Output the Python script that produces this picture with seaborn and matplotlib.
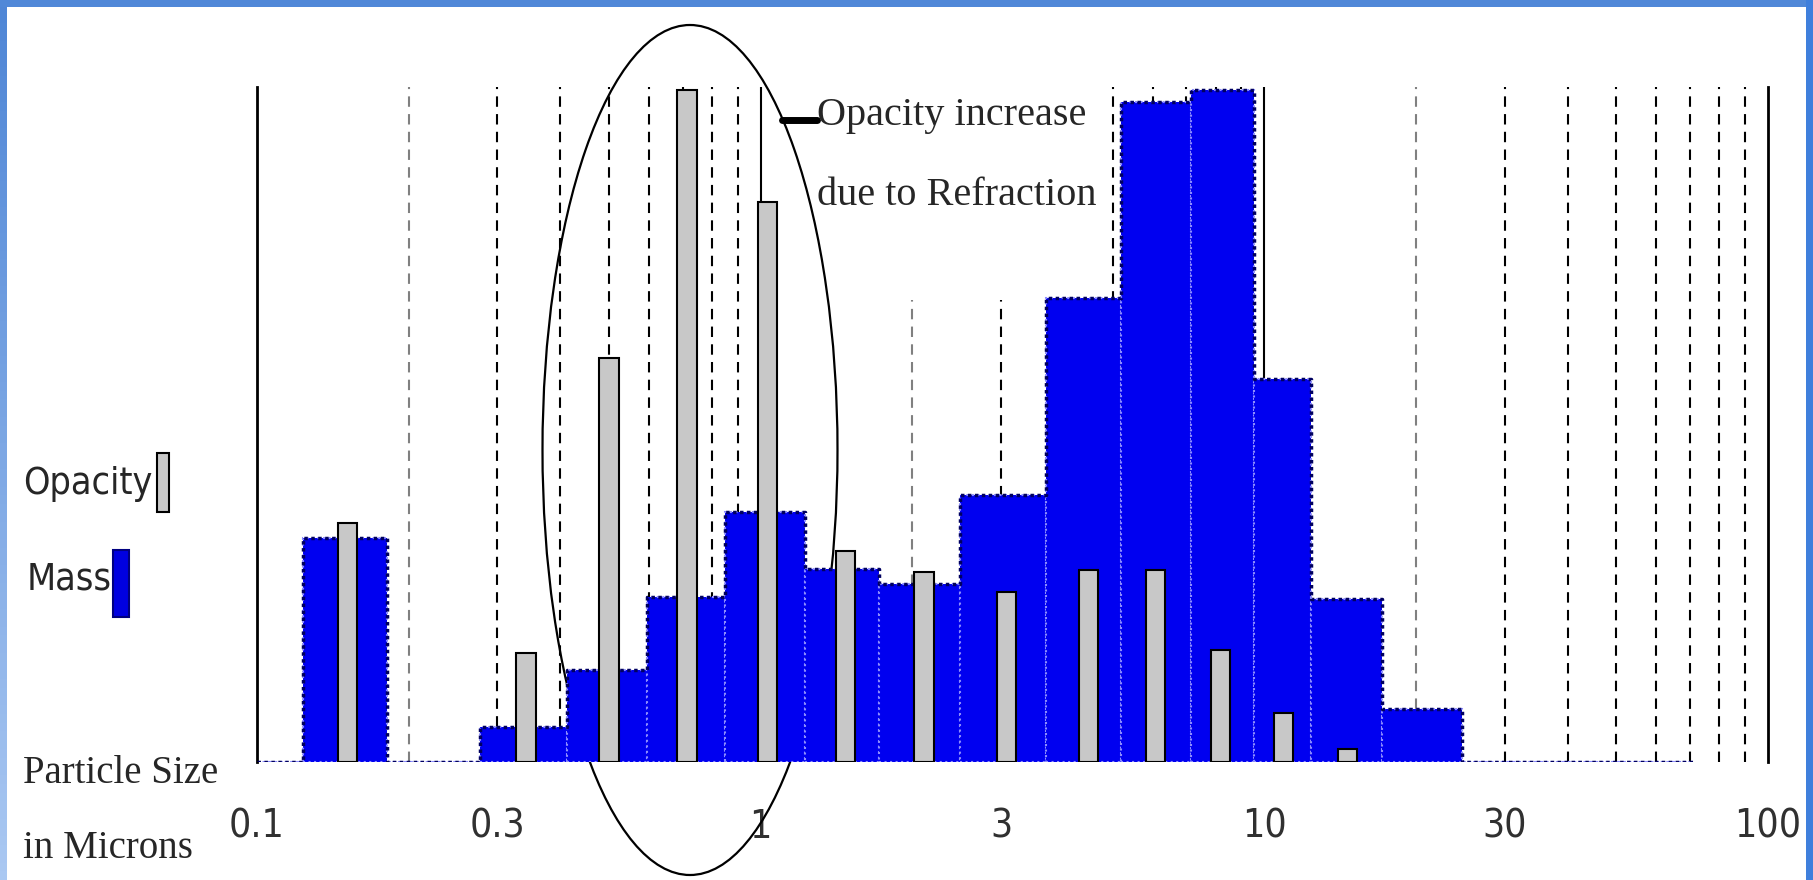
import numpy as np
import matplotlib
matplotlib.use('Agg')
import matplotlib.pyplot as plt
import seaborn as sns
from matplotlib import font_manager
from matplotlib.patches import Ellipse, Rectangle
from matplotlib.lines import Line2D
from matplotlib.colors import LinearSegmentedColormap

# Mass distribution: bin edges (microns) and relative height of each bin
mass_edges = [0.1, 0.1234, 0.181, 0.277, 0.412, 0.594, 0.849, 1.224, 1.72,
              2.49, 3.69, 5.19, 7.14, 9.53, 12.4, 17.1, 24.7, 71.0]
mass_values = [0, 0.332, 0, 0.052, 0.136, 0.244, 0.370, 0.286, 0.264,
               0.396, 0.687, 0.978, 0.995, 0.567, 0.241, 0.079, 0]

# Opacity: particle size (microns) and relative height
opacity_sizes = [0.151, 0.342, 0.500, 0.714, 1.03, 1.475, 2.11, 3.08,
                 4.47, 6.07, 8.17, 10.9, 14.6]
opacity_values = [0.354, 0.161, 0.598, 0.995, 0.83, 0.313, 0.281, 0.252,
                  0.284, 0.284, 0.166, 0.073, 0.019]

tick_values = [0.1, 0.3, 1, 3, 10, 30, 100]
tick_labels = ['0.1', '0.3', '1', '3', '10', '30', '100']
decades = [0.1, 1, 10, 100]

sns.set_style('white')
serif = ['Liberation Serif', 'DejaVu Serif']
plt.rcParams['font.family'] = ['Liberation Sans', 'DejaVu Sans']

# look for a narrow sans face, the original labels are very condensed
narrow_file = None
for f in font_manager.fontManager.ttflist:
    fn = f.fname
    if ('Narrow' in fn or 'Condensed' in fn) and f.weight in (400, 'normal') \
            and f.style == 'normal' and 'Mono' not in fn and 'Serif' not in fn:
        narrow_file = fn
        break


def narrow_font(size):
    if narrow_file:
        return font_manager.FontProperties(fname=narrow_file, size=size)
    return font_manager.FontProperties(family=['Liberation Sans', 'DejaVu Sans'],
                                       size=size * 0.85)


W, H = 1813, 880
fig = plt.figure(figsize=(W / 100, H / 100), dpi=100)
ax = fig.add_axes([257 / W, 118 / H, 1511 / W, 675 / H])

# grid: dashed at 2..9 of every decade, solid at the inner decades
minor_grid = [m * d for d in decades[:-1] for m in range(2, 10)]
grid_cols = ['#808080' if m == 2 else 'black'
             for d in decades[:-1] for m in range(2, 10)]
ax.vlines(minor_grid, 0, 1, transform=ax.get_xaxis_transform(),
          colors=grid_cols, linestyles=[(0, (5, 3.5))], linewidth=1.5,
          zorder=0)
ax.vlines(decades[1:-1], 0, 1, transform=ax.get_xaxis_transform(),
          colors='black', linewidth=1.5, zorder=0.5)

# white patch behind the annotation text
ax.add_patch(Rectangle((0.359, 0.684), 0.189, 0.316, transform=ax.transAxes,
                       facecolor='white', edgecolor='none', zorder=0.7))

# mass histogram (bins given in log10 units because of log_scale)
centers = np.sqrt(np.array(mass_edges[:-1]) * np.array(mass_edges[1:]))
log_bins = [float(np.log10(e)) for e in mass_edges]
sns.histplot(x=centers, weights=mass_values, bins=log_bins,
             log_scale=True, element='bars', stat='count', color='#0000f0',
             alpha=1, edgecolor='#8c8cff', linewidth=1.5, linestyle=':',
             ax=ax, zorder=2)
sns.histplot(x=centers, weights=mass_values, bins=log_bins,
             log_scale=True, element='step', fill=False, stat='count',
             color='#000060', linewidth=2.5, linestyle=(0, (1, 1)),
             ax=ax, zorder=3)

# opacity bars, constant width in log space
sizes = np.array(opacity_sizes)
half = 10 ** (0.038 / 2)
ax.bar(sizes / half, opacity_values, width=sizes * half - sizes / half,
       align='edge', color='#c8c8c8', edgecolor='black', linewidth=1.5,
       zorder=4)

ax.set_xlim(decades[0], decades[-1])
ax.set_ylim(0, 1)
ax.set_xlabel('')
ax.set_ylabel('')
ax.set_yticks([])
ax.set_xticks(tick_values, tick_labels)
ax.xaxis.set_minor_locator(matplotlib.ticker.NullLocator())
ax.tick_params(axis='x', length=9, width=1.5, pad=24,
               labelcolor='#303030', color='black')
for lbl in ax.get_xticklabels():
    lbl.set_fontproperties(narrow_font(28))
for s in ['top', 'bottom']:
    ax.spines[s].set_visible(False)
for s in ['left', 'right']:
    ax.spines[s].set_color('black')
    ax.spines[s].set_linewidth(2)
ax.patch.set_alpha(0)

# ellipse around the refraction peak
ax.add_patch(Ellipse((690 / W, 1 - 450 / H), 295 / W, 850 / H,
                     transform=fig.transFigure, fill=False, edgecolor='black',
                     linewidth=1.6, clip_on=False, zorder=1))

fig.text(817 / W, 1 - 125 / H, 'Opacity increase', family=serif, fontsize=29,
         va='baseline')
fig.text(817 / W, 1 - 205 / H, 'due to Refraction', family=serif, fontsize=29,
         va='baseline')
fig.add_artist(Line2D([782 / W, 817 / W], [1 - 120 / H] * 2, color='black',
                      linewidth=5))

# legend on the left, the swatch sits right after each word
renderer = fig.canvas.get_renderer()
t_op = fig.text(23 / W, 1 - 484 / H, 'Opacity', fontproperties=narrow_font(27),
                va='center')
x_op = t_op.get_window_extent(renderer).x1 + 4
fig.add_artist(Rectangle((x_op / W, 1 - 512 / H), 12 / W, 59 / H,
                         transform=fig.transFigure, facecolor='#c8c8c8',
                         edgecolor='black', linewidth=1.5))
t_ms = fig.text(27 / W, 1 - 580 / H, 'Mass', fontproperties=narrow_font(27),
                va='center')
x_ms = t_ms.get_window_extent(renderer).x1 + 1
fig.add_artist(Rectangle((x_ms / W, 1 - 617 / H), 16 / W, 67 / H,
                         transform=fig.transFigure, facecolor='#0000e0',
                         edgecolor='#000080', linewidth=1.5))
fig.text(23 / W, 1 - 783 / H, 'Particle Size', family=serif, fontsize=28,
         va='baseline')
fig.text(23 / W, 1 - 858 / H, 'in Microns', family=serif, fontsize=28,
         va='baseline')

# blue frame
fig.add_artist(Rectangle((0, 1 - 7 / H), 1, 7 / H, transform=fig.transFigure,
                         facecolor='#5088d8', edgecolor='none'))
fig.add_artist(Rectangle((1 - 7 / W, 0), 7 / W, 1, transform=fig.transFigure,
                         facecolor='#3f7fdc', edgecolor='none'))
lax = fig.add_axes([0, 0, 7 / W, 1 - 7 / H])
cmap = LinearSegmentedColormap.from_list('frame', ['#aac8f2', '#4f86d6'])
lax.imshow(np.linspace(0, 1, 100)[:, None], aspect='auto', cmap=cmap,
           origin='lower')
lax.axis('off')

fig.savefig('out.png', dpi=100)
